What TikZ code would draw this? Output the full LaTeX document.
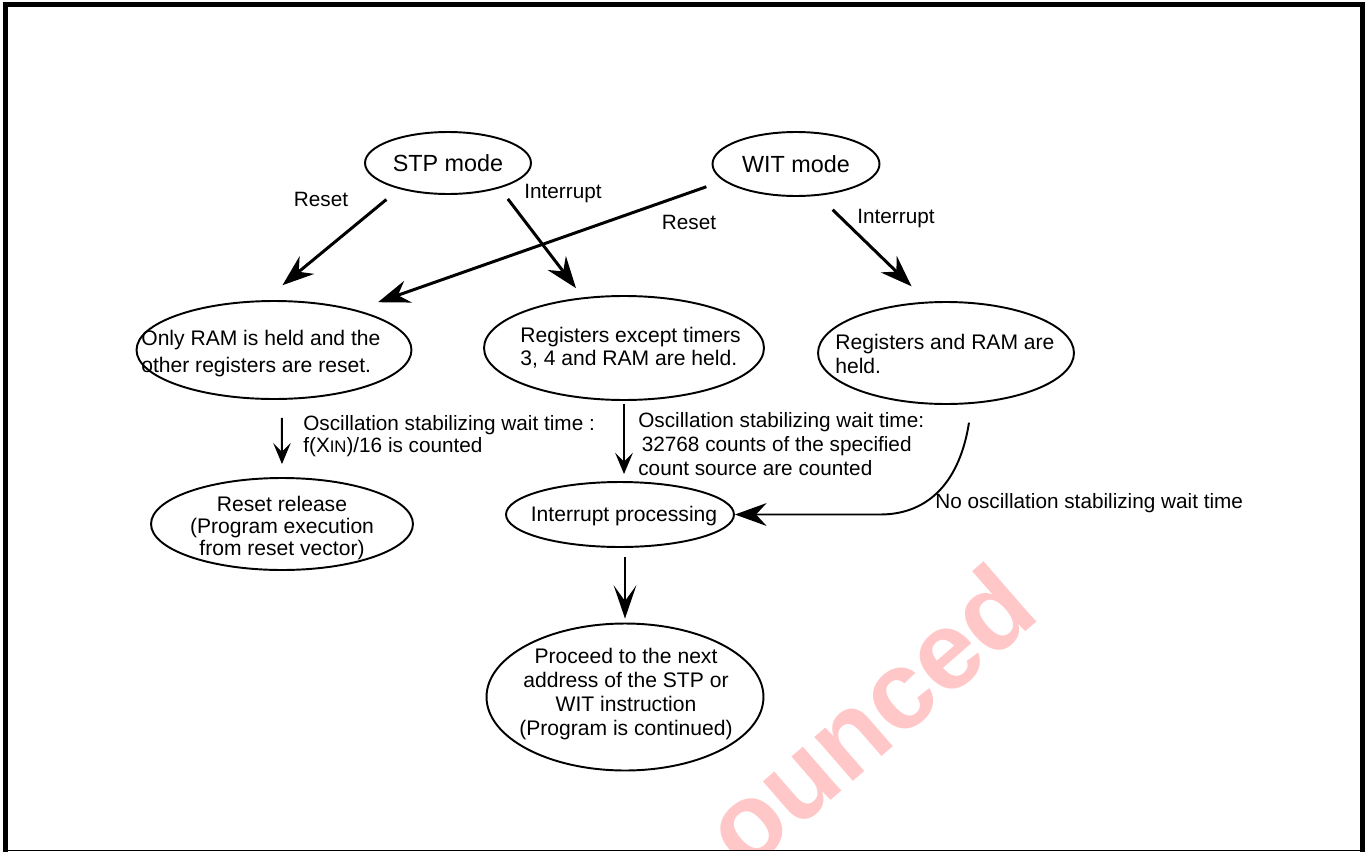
\documentclass[tikz,border=0pt]{standalone}
\usepackage{fontspec}
\setmainfont{Liberation Sans}
\usetikzlibrary{arrows.meta,shapes.geometric}

\tikzset{
  mode/.style={ellipse,draw,line width=1.1pt,inner sep=0pt},
  lbl/.style={inner sep=0pt,font=\fontsize{11.8}{12.5}\selectfont},
  etxt/.style={inner sep=0pt,font=\fontsize{12}{14}\selectfont},
  big/.style={line width=1.7pt,-{Stealth[length=18pt,width=13pt,inset=6pt]}},
  small/.style={line width=1.1pt,-{Stealth[length=12pt,width=10pt,inset=5pt]}},
}

\begin{document}
\begin{tikzpicture}[x=0.02cm,y=-0.02cm]
\useasboundingbox (0,0) rectangle (1369,852);
% watermark
\begin{scope}
  \clip (8,7) rectangle (1359,849);
  \node[rotate=41,text=red!22,font=\fontsize{63}{63}\bfseries\selectfont] (wm) at (868,716) {ounced};
\end{scope}
% frame
\draw[line width=2.8pt] (5.5,852) -- (5.5,4.5) -- (1362.5,4.5) -- (1362.5,852);
\draw[line width=0.9pt] (3,850.5) -- (1365,850.5);

% states
\node[mode,minimum width=3.32cm,minimum height=1.24cm,font=\fontsize{13.3}{15}\selectfont] (stp) at (448,163) {STP mode};
\node[mode,minimum width=3.34cm,minimum height=1.28cm,font=\fontsize{13.3}{15}\selectfont] (wit) at (796,164) {WIT mode};
\node[mode,minimum width=5.5cm,minimum height=1.96cm] (ram) at (274,350) {};
\node[mode,minimum width=5.6cm,minimum height=2.08cm] (regs) at (624,348) {};
\node[mode,minimum width=5.12cm,minimum height=2.04cm] (held) at (946,353) {};
\node[mode,minimum width=5.24cm,minimum height=1.84cm] (rel) at (282,524) {};
\node[mode,minimum width=4.56cm,minimum height=1.30cm] (intp) at (620,514.5) {};
\node[mode,minimum width=5.54cm,minimum height=2.94cm] (next) at (625,697) {};

\node[etxt,anchor=west,align=left,font=\fontsize{12}{15.3}\selectfont] (ramtxt) at (141,353.5) {Only RAM is held and the\\other registers are reset.};
\node[etxt,anchor=west,align=left,font=\fontsize{12}{13}\selectfont] (regstxt) at (520,348) {Registers except timers\\3, 4 and RAM are held.};
\node[etxt,anchor=west,align=left] (heldtxt) at (835,354) {Registers and RAM are\\held.};
\node[etxt,align=center,font=\fontsize{12}{12.5}\selectfont] (reltxt) at (282,528) {Reset release\\(Program execution\\from reset vector)};
\node[etxt] (intptxt) at (624,516) {Interrupt processing};
\node[etxt,align=center,font=\fontsize{12}{13.8}\selectfont] (nexttxt) at (626,694) {Proceed to the next\\address of the STP or\\WIT instruction\\(Program is continued)};

% transitions
\draw[big,shorten <=0.33cm,shorten >=0.47cm] (stp.208) -- (ram.101);
\draw[big,shorten <=0.27cm,shorten >=0.23cm] (stp.334) -- (regs.129);
\draw[big,shorten <=0.36cm,shorten >=0.46cm] (wit.193) -- (ram.26);
\draw[big,shorten <=0.40cm,shorten >=0.44cm] (wit.305) -- (held.110);
\node[lbl] (rst1) at (321,199) {Reset};
\node[lbl] (int1) at (563,194) {Interrupt};
\node[lbl] (rst2) at (689,222) {Reset};
\node[lbl] (int2) at (896,219) {Interrupt};

\draw[small,shorten <=0.36cm,shorten >=0.26cm] (ram.279) -- (rel.north);
\node[lbl,anchor=west,align=left] (osc1) at (303,436) {Oscillation stabilizing wait time :\\f(X{\fontsize{9.5}{10}\selectfont IN})/16 is counted};
\draw[small,shorten <=0.06cm,shorten >=0.14cm] (regs.south) -- (regs.south |- intp.north);
\node[lbl,anchor=west,align=left,font=\fontsize{11.8}{13.6}\selectfont] (osc2) at (638,444) {Oscillation stabilizing wait time:\\\hspace{2pt}32768 counts of the specified\\count source are counted};
\draw[line width=1.1pt,-{Stealth[length=18pt,width=13pt,inset=6pt]},shorten <=0.38cm] (held.297) .. controls (960,480) and (930,514.5) .. (880,514.5) -- (intp.east);
\node[lbl,anchor=west] (noosc) at (935,503) {No oscillation stabilizing wait time};
\draw[line width=1pt,-{Stealth[length=19pt,width=13pt,inset=9pt]},shorten <=0.18cm,shorten >=0.08cm] (next.north |- intp.south) -- (next.north);
\end{tikzpicture}
\end{document}
